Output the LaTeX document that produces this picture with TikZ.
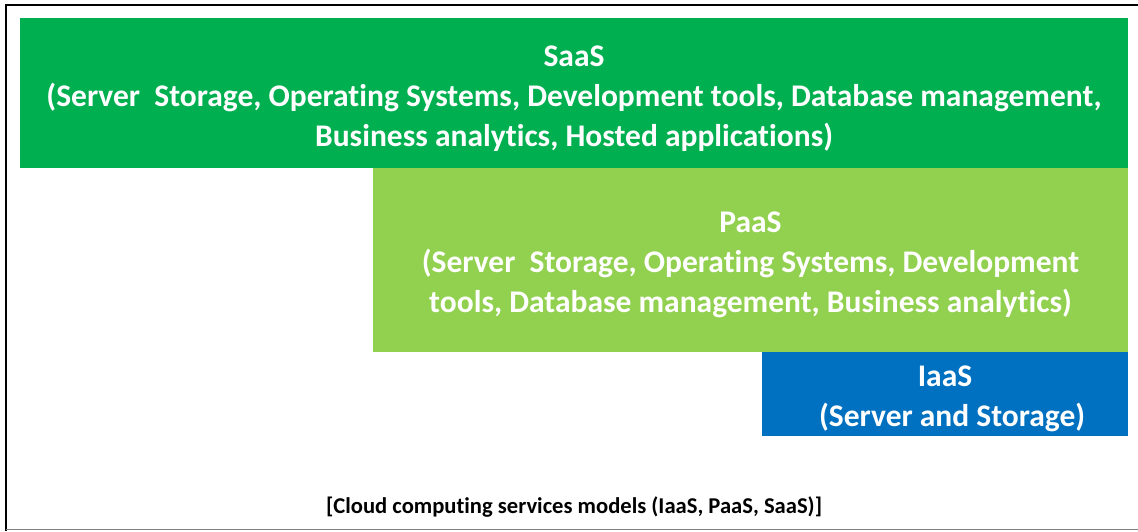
\documentclass[tikz,border=0pt]{standalone}
\usepackage{fontspec}
\setmainfont[Ligatures=NoCommon]{Carlito}
\definecolor{saasgreen}{HTML}{00B050}
\definecolor{paasgreen}{HTML}{92D050}
\definecolor{iaasblue}{HTML}{0070C0}
\newcommand{\toppad}{\rule{0pt}{31pt}}
\begin{document}
\begin{tikzpicture}[x=1pt,y=-1pt,
  every node/.style={font=\bfseries\fontsize{31.5}{40}\selectfont,text=white,align=center,inner sep=0pt}]
  \useasboundingbox (0,0) rectangle (1138,531);
  % frame: black on left and top, grey at the bottom
  \draw[line width=2.5pt] (6,531) -- (6,5) -- (1138,5);
  \draw[line width=1.5pt,gray] (6,529.5) -- (1138,529.5);
  \node[fill=saasgreen,minimum width=1108pt,minimum height=150pt] (saas) at (574,93) {\toppad SaaS\\(Server\ \ Storage, Operating Systems, Development tools, Database management,\\Business analytics, Hosted applications)};
  \node[fill=paasgreen,minimum width=755pt,minimum height=184pt] (paas) at (750.5,260) {\toppad PaaS\\(Server\ \ Storage, Operating Systems, Development\\tools, Database management, Business analytics)};
  \node[fill=iaasblue,minimum width=366pt,minimum height=84pt] (iaas) at (945,394) {\toppad IaaS\\\ \ (Server and Storage)};
  \node[font=\bfseries\fontsize{22.6}{26}\selectfont,text=black] (caption) at (574,507) {[Cloud computing services models (IaaS, PaaS, SaaS)]};
\end{tikzpicture}
\end{document}
